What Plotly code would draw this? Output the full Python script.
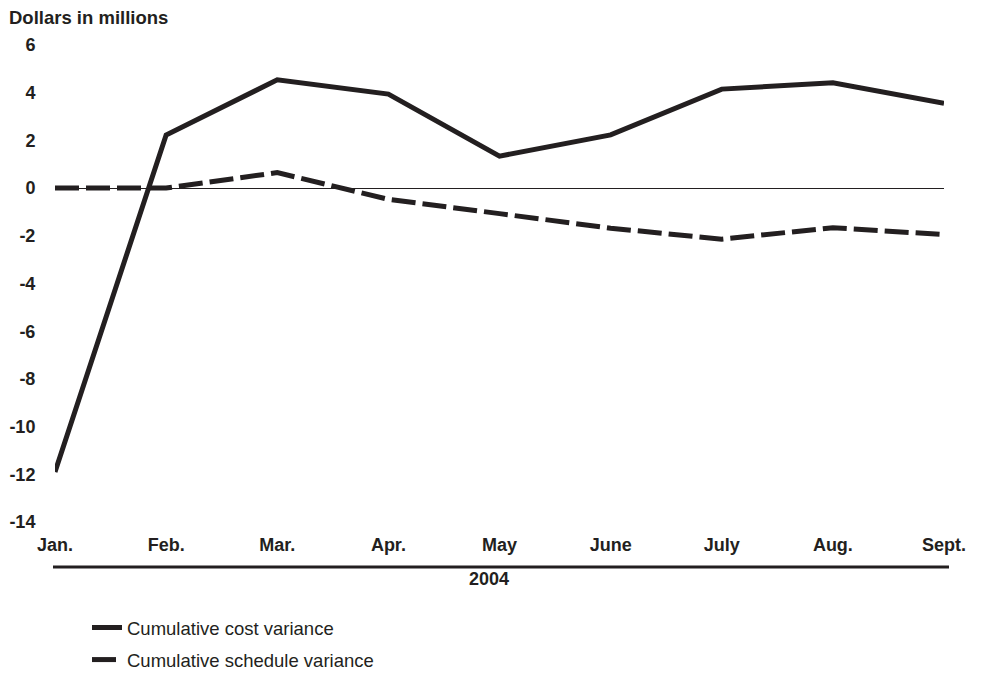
import plotly.graph_objects as go

months = ["Jan.", "Feb.", "Mar.", "Apr.", "May", "June", "July", "Aug.", "Sept."]
cost_variance = [-11.9, 2.23, 4.54, 3.94, 1.34, 2.23, 4.15, 4.42, 3.56]
schedule_variance = [0.0, 0.0, 0.65, -0.47, -1.07, -1.68, -2.14, -1.66, -1.95]
y_ticks = [6, 4, 2, 0, -2, -4, -6, -8, -10, -12, -14]
y_tick_text = ["6", "4", "2", "0", "-2", "-4", "-6", "-8", "-10", "-12", "-14"]
year_label = "2004"
y_title = "Dollars in millions"

INK = "#231f20"
FONT = "Liberation Sans, Arial, sans-serif"

x_idx = list(range(len(months)))

fig = go.Figure()
fig.add_trace(go.Scatter(
    x=x_idx, y=cost_variance, mode="lines",
    name="Cumulative cost variance",
    line=dict(color=INK, width=5),
    legendgroup="a",
))
fig.add_trace(go.Scatter(
    x=x_idx, y=schedule_variance, mode="lines",
    name="Cumulative schedule variance",
    line=dict(color=INK, width=5, dash="24px,7px"),
    legendgroup="b",
))

# page body adds an 8px margin, so the figure is slightly smaller and
# every screen position below is converted to figure position
PAGE_PAD = 8
W, H = 982 - PAGE_PAD, 673 - PAGE_PAD
L = 55 - PAGE_PAD
T = 45 - PAGE_PAD
R = W - (944 - PAGE_PAD)
B = H - (522 - PAGE_PAD)
ph = H - T - B
pw = W - L - R

def py(screen_y):
    return (H - B - (screen_y - PAGE_PAD)) / ph

def px(screen_x):
    return ((screen_x - PAGE_PAD) - L) / pw

fig.update_layout(
    width=W, height=H,
    margin=dict(l=L, r=R, t=T, b=B, autoexpand=False),
    paper_bgcolor="white", plot_bgcolor="white",
    font=dict(family=FONT, color=INK, size=18),
    showlegend=True,
    legend=dict(
        x=px(87), xanchor="left", y=py(609), yanchor="top",
        font=dict(family=FONT, size=18.5, color=INK, weight="normal"),
        traceorder="grouped", tracegroupgap=5,
        bgcolor="rgba(0,0,0,0)",
    ),
    xaxis=dict(
        range=[0, len(months) - 1],
        tickvals=x_idx, ticktext=months,
        showgrid=False, zeroline=False, showline=False,
        ticks="outside", ticklen=6, tickcolor="rgba(0,0,0,0)",
        tickfont=dict(family=FONT, size=18, color=INK, weight="bold"),
        fixedrange=True, automargin=False,
    ),
    yaxis=dict(
        range=[-14, 6],
        tickvals=y_ticks, ticktext=y_tick_text,
        showgrid=False, showline=False,
        zeroline=True, zerolinecolor=INK, zerolinewidth=1.2,
        ticks="outside", ticklen=15, tickcolor="rgba(0,0,0,0)",
        tickfont=dict(family=FONT, size=18, color=INK, weight="bold"),
        fixedrange=True, automargin=False,
    ),
    shapes=[dict(
        type="line", xref="paper", yref="paper",
        x0=px(53), x1=px(949), y0=py(567), y1=py(567),
        line=dict(color=INK, width=3),
    )],
    annotations=[
        dict(text=y_title, xref="paper", yref="paper",
             x=px(7), y=py(17), xanchor="left", yanchor="middle",
             showarrow=False,
             font=dict(family=FONT, size=18.5, color=INK, weight="bold")),
        dict(text=year_label, xref="paper", yref="paper",
             x=px(489), y=py(579), xanchor="center", yanchor="middle",
             showarrow=False,
             font=dict(family=FONT, size=18, color=INK, weight="bold")),
    ],
)

fig.write_html("out.html")
